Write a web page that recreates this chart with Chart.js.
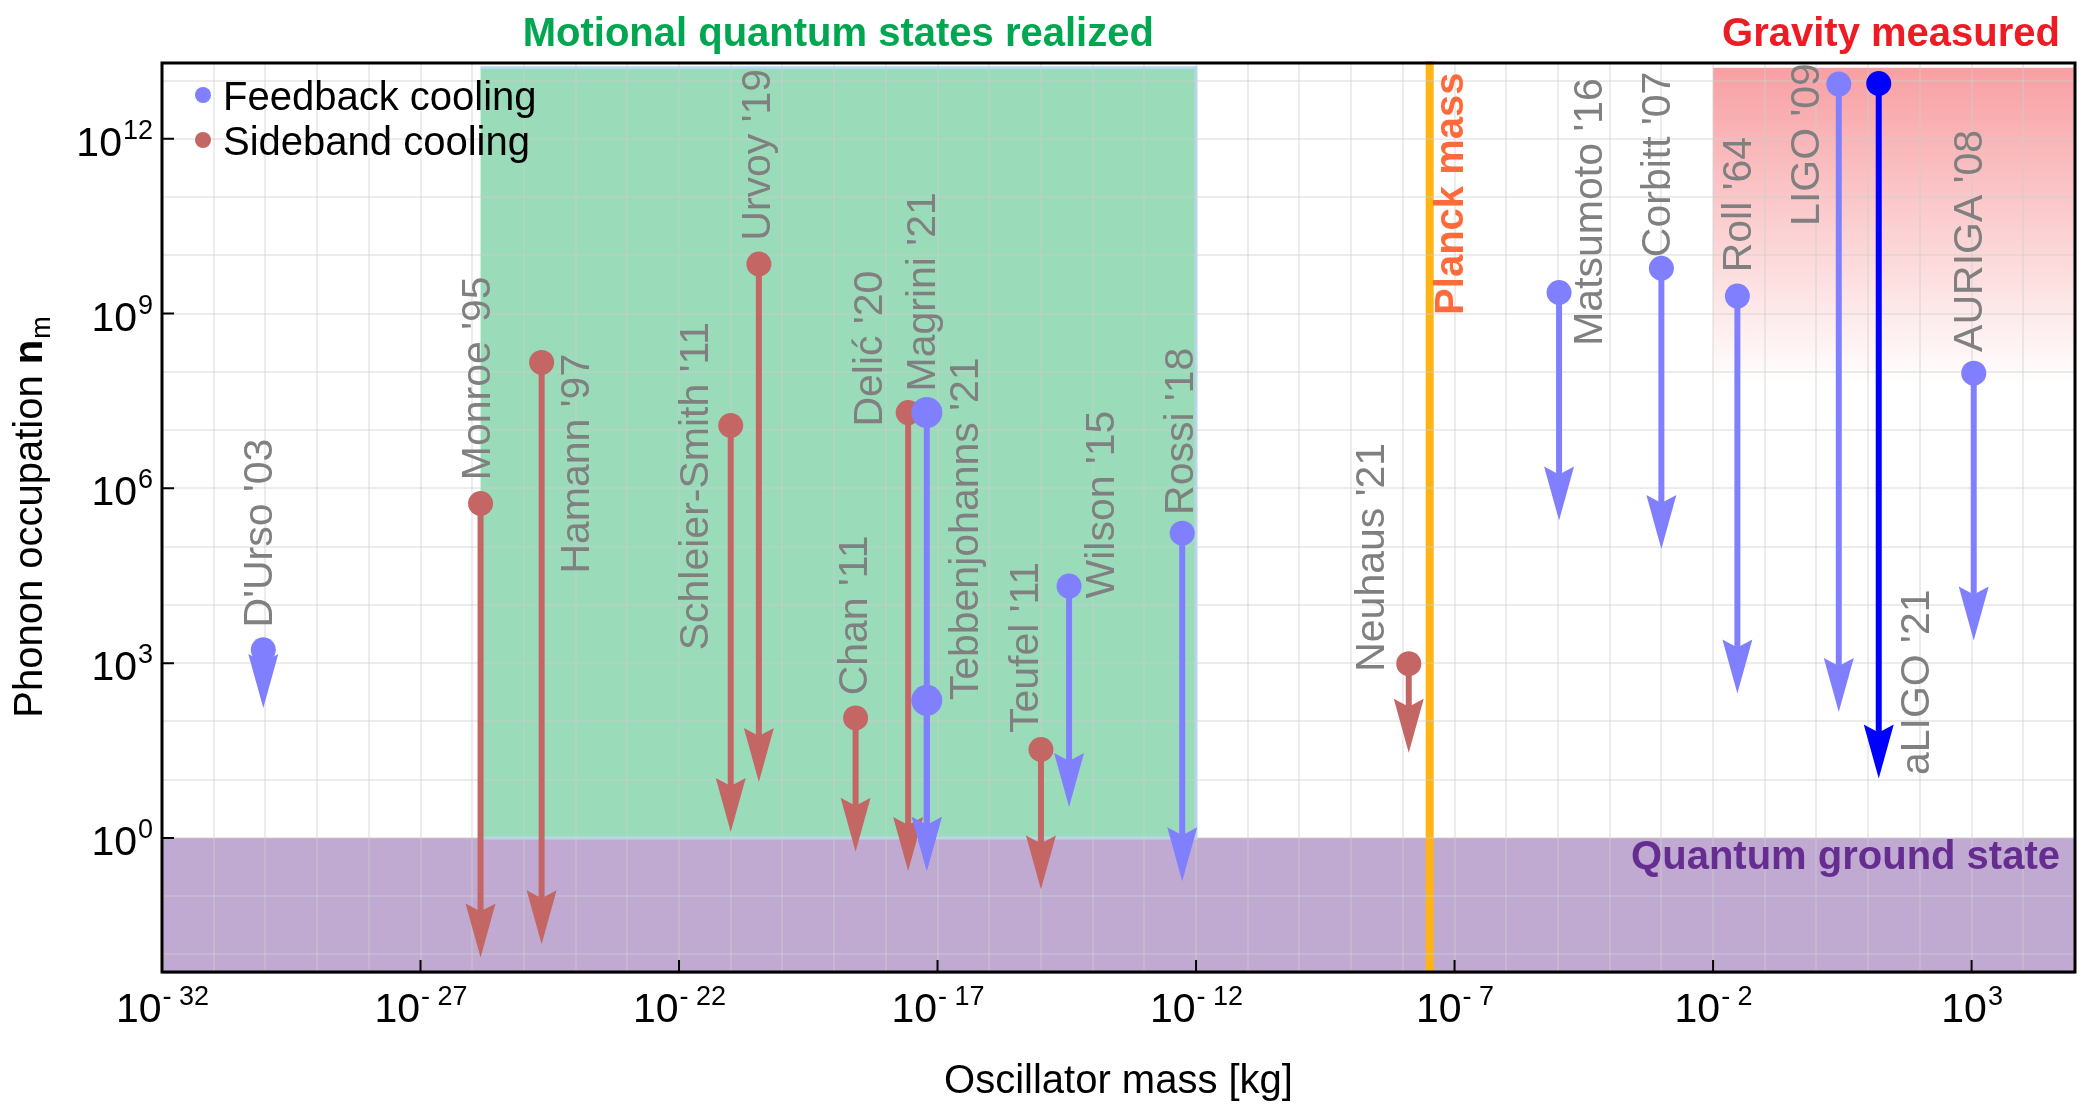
<!DOCTYPE html>
<html>
<head>
<meta charset="utf-8">
<script src="https://cdn.jsdelivr.net/npm/chart.js@4.4.1/dist/chart.umd.min.js"></script>
<style>
html,body{margin:0;padding:0;background:#ffffff;}
#wrap{width:2100px;height:1104px;position:relative;}
</style>
</head>
<body>
<div id="wrap"><canvas id="c" width="2100" height="1104"></canvas></div>
<script>
// ---------------- data ----------------
const experiments = ["D'Urso '03", "Monroe '95", "Hamann '97", "Schleier-Smith '11", "Urvoy '19",
  "Chan '11", "Delić '20", "Magrini '21", "Tebbenjohanns '21", "Teufel '11", "Wilson '15",
  "Rossi '18", "Neuhaus '21", "Matsumoto '16", "Corbitt '07", "Roll '64", "LIGO '09",
  "aLIGO '21", "AURIGA '08"];
const massKg = [9.1e-31, 1.45e-26, 2.2e-25, 1.0e-21, 3.5e-21,
  2.6e-19, 2.7e-18, 6.2e-18, 6.2e-18, 1.0e-15, 3.5e-15,
  5.4e-13, 1.3e-8, 1.05e-5, 1.0e-3, 2.95e-2, 2.7,
  16, 1.1e3];
const nInitial = [1.7e3, 5.5e5, 1.45e8, 1.2e7, 7.1e9,
  1.15e2, 2.0e7, 2.0e7, 2.3e2, 33, 2.1e4,
  1.7e5, 9.8e2, 2.3e9, 6.0e9, 2.0e9, 8.7e12,
  8.9e12, 9.5e7];
const nFinal = [1.7e2, 8.9e-3, 1.5e-2, 1.26, 9.1,
  0.58, 0.27, 0.27, 0.27, 0.13, 3.4,
  0.18, 29, 2.8e5, 9.1e4, 3.0e2, 1.45e2,
  10.5, 2.45e3];
const coolingMethod = ["feedback", "sideband", "sideband", "sideband", "sideband",
  "sideband", "sideband", "feedback", "feedback", "sideband", "feedback",
  "feedback", "sideband", "feedback", "feedback", "feedback", "feedback",
  "feedback", "feedback"];

// label anchors (data coordinates: mass, occupation) and which end of the text sits there
const labelMass = [8.1e-31, 1.35e-26, 1.1e-24, 2.24e-22, 3.5e-21,
  2.6e-19, 5.1e-19, 5.4e-18, 3.7e-17, 5.4e-16, 1.58e-14,
  5.2e-13, 2.57e-9, 4.2e-5, 8.9e-4, 3.2e-2, 0.69,
  89, 9.8e2];
const labelN = [4.1e3, 1.38e6, 2.04e8, 1.66e3, 1.78e10,
  2.8e2, 1.15e7, 4.6e7, 2.3e2, 63, 1.29e4,
  3.5e5, 7.1e2, 2.8e8, 9.3e9, 5.1e9, 3.2e10,
  12, 2.2e8];
const labelEnd = ["start", "start", "end", "start", "start",
  "start", "start", "start", "start", "start", "start",
  "start", "start", "start", "start", "start", "start",
  "start", "start"];

// regions
const groundStateN = 1;
const regionTopN = 1.66e13;
const motionalMassRange = [1.45e-26, 1e-12];
const gravityMassMin = 1e-2;
const gravityFadeN = 6.0e7;
const planckMassKg = 3.3e-8;
const planckLabelAt = [9.1e-8, 9.5e8];

// axes
const xRange = [1e-32, 1e5];
const yRange = [5.0e-3, 2.0e13];
const xTickExponents = [-32, -27, -22, -17, -12, -7, -2, 3];
const yTickExponents = [0, 3, 6, 9, 12];
const xGridExponents = Array.from({length: 38}, (_, i) => i - 32);
const yGridExponents = Array.from({length: 16}, (_, i) => i - 2);

// ---------------- styles ----------------
const FONT = "'Liberation Sans', Arial, Helvetica, sans-serif";
const COL_FEEDBACK = '#8080ff';
const COL_SIDEBAND = '#c46664';
const COL_HIGHLIGHT = '#0000ff';
const highlighted = new Set(["aLIGO '21"]);
const largeMarkers = new Set(["Magrini '21", "Tebbenjohanns '21"]);
const colorOf = i => highlighted.has(experiments[i]) ? COL_HIGHLIGHT :
  (coolingMethod[i] === 'feedback' ? COL_FEEDBACK : COL_SIDEBAND);
const radiusOf = i => largeMarkers.has(experiments[i]) ? 15.5 : 12.5;

function pointsFor(method) {
  const idx = experiments.map((_, i) => i).filter(i => coolingMethod[i] === method);
  return {
    data: idx.map(i => ({x: massKg[i], y: nInitial[i]})),
    colors: idx.map(colorOf),
    radii: idx.map(radiusOf)
  };
}
const fb = pointsFor('feedback');
const sb = pointsFor('sideband');

// ---------------- plugins ----------------
const backgroundPlugin = {
  id: 'regions',
  beforeDraw(chart) {
    const {ctx, chartArea: a, scales: {x, y}} = chart;
    ctx.save();
    ctx.fillStyle = '#ffffff';
    ctx.fillRect(0, 0, chart.width, chart.height);
    ctx.beginPath(); ctx.rect(a.left, a.top, a.right - a.left, a.bottom - a.top + 2); ctx.clip();
    // ground state
    const y0 = y.getPixelForValue(groundStateN);
    ctx.fillStyle = '#c0aad2';
    ctx.fillRect(a.left, y0, a.right - a.left, a.bottom - y0 + 2);
    // motional quantum states
    const gx0 = x.getPixelForValue(motionalMassRange[0]);
    const gx1 = x.getPixelForValue(motionalMassRange[1]);
    const gTop = y.getPixelForValue(regionTopN);
    ctx.fillStyle = '#9adbba';
    ctx.fillRect(gx0, gTop, gx1 - gx0, y0 - gTop);
    ctx.strokeStyle = 'rgba(175,218,240,0.95)';
    ctx.lineWidth = 3;
    ctx.beginPath();
    ctx.moveTo(gx0, gTop); ctx.lineTo(gx1, gTop); ctx.lineTo(gx1, y0); ctx.lineTo(gx0, y0);
    ctx.stroke();
    // gravity measured
    const rx0 = x.getPixelForValue(gravityMassMin);
    const rBot = y.getPixelForValue(gravityFadeN);
    const grad = ctx.createLinearGradient(0, gTop, 0, rBot);
    grad.addColorStop(0, 'rgba(237,28,36,0.42)');
    grad.addColorStop(1, 'rgba(237,28,36,0)');
    ctx.fillStyle = grad;
    ctx.fillRect(rx0, gTop, a.right - rx0, rBot - gTop);
    ctx.restore();
    // Planck mass line
    ctx.save();
    const px = x.getPixelForValue(planckMassKg);
    ctx.strokeStyle = '#fdb515';
    ctx.lineWidth = 8;
    ctx.beginPath(); ctx.moveTo(px, a.top - 2); ctx.lineTo(px, a.bottom); ctx.stroke();
    ctx.restore();
  }
};

function drawArrow(ctx, xp, yStart, yTip, color) {
  const headLen = 54, half = 15, notch = 8;
  ctx.strokeStyle = color;
  ctx.fillStyle = color;
  ctx.lineWidth = 6;
  ctx.lineCap = 'butt';
  ctx.beginPath();
  ctx.moveTo(xp, yStart);
  ctx.lineTo(xp, Math.max(yStart, yTip - headLen + notch + 3));
  ctx.stroke();
  ctx.beginPath();
  ctx.moveTo(xp, yTip);
  ctx.lineTo(xp - half, yTip - headLen);
  ctx.lineTo(xp, yTip - headLen + notch);
  ctx.lineTo(xp + half, yTip - headLen);
  ctx.closePath();
  ctx.fill();
}

const arrowPlugin = {
  id: 'arrows',
  beforeDatasetsDraw(chart) {
    const {ctx, scales: {x, y}} = chart;
    ctx.save();
    const order = ['sideband', 'feedback'];
    order.forEach(m => {
      experiments.forEach((_, i) => {
        if (coolingMethod[i] !== m) return;
        drawArrow(ctx, x.getPixelForValue(massKg[i]), y.getPixelForValue(nInitial[i]),
          y.getPixelForValue(nFinal[i]), colorOf(i));
      });
    });
    ctx.restore();
  }
};

function drawSupLabel(ctx, base, sup, xp, baseY, align) {
  ctx.font = `41px ${FONT}`;
  const w1 = ctx.measureText(base).width;
  ctx.font = `27px ${FONT}`;
  const w2 = ctx.measureText(sup).width;
  let x0;
  if (align === 'center') x0 = xp - (w1 + w2) / 2;
  else x0 = xp - (w1 + w2);
  ctx.textAlign = 'left';
  ctx.textBaseline = 'alphabetic';
  ctx.fillStyle = '#000000';
  ctx.font = `41px ${FONT}`;
  ctx.fillText(base, x0, baseY);
  ctx.font = `27px ${FONT}`;
  ctx.fillText(sup, x0 + w1 + 1, baseY - 17);
}

const annotationPlugin = {
  id: 'annotations',
  afterDraw(chart) {
    const {ctx, chartArea: a, scales: {x, y}} = chart;
    ctx.save();
    // experiment labels
    ctx.fillStyle = '#808080';
    ctx.font = `41px ${FONT}`;
    ctx.textBaseline = 'middle';
    experiments.forEach((name, i) => {
      const lx = x.getPixelForValue(labelMass[i]);
      const ly = y.getPixelForValue(labelN[i]);
      ctx.save();
      ctx.translate(lx, ly);
      ctx.rotate(-Math.PI / 2);
      ctx.textAlign = labelEnd[i] === 'end' ? 'right' : 'left';
      ctx.fillText(name, 0, 0);
      ctx.restore();
    });
    // Planck mass label
    ctx.save();
    ctx.translate(x.getPixelForValue(planckLabelAt[0]), y.getPixelForValue(planckLabelAt[1]));
    ctx.rotate(-Math.PI / 2);
    ctx.font = `bold 40px ${FONT}`;
    ctx.fillStyle = '#ff6a3a';
    ctx.textAlign = 'left';
    ctx.textBaseline = 'middle';
    ctx.fillText('Planck mass', 0, 0);
    ctx.restore();

    // frame
    ctx.strokeStyle = '#000000';
    ctx.lineWidth = 3;
    ctx.strokeRect(a.left, a.top, a.right - a.left, a.bottom - a.top);
    // inward major ticks
    ctx.lineWidth = 2;
    ctx.beginPath();
    xTickExponents.forEach(e => {
      const px = x.getPixelForValue(Math.pow(10, e));
      ctx.moveTo(px, a.bottom); ctx.lineTo(px, a.bottom - 12);
    });
    yTickExponents.forEach(e => {
      const py = y.getPixelForValue(Math.pow(10, e));
      ctx.moveTo(a.left, py); ctx.lineTo(a.left + 12, py);
    });
    ctx.stroke();
    // tick labels
    xTickExponents.forEach(e => {
      const px = x.getPixelForValue(Math.pow(10, e));
      const sup = e < 0 ? '- ' + Math.abs(e) : String(e);
      drawSupLabel(ctx, '10', sup, px, a.bottom + 50, 'center');
    });
    yTickExponents.forEach(e => {
      const py = y.getPixelForValue(Math.pow(10, e));
      drawSupLabel(ctx, '10', String(e), a.left - 10, py + 17, 'right');
    });
    // axis titles
    ctx.fillStyle = '#000000';
    ctx.font = `40px ${FONT}`;
    ctx.textAlign = 'center';
    ctx.textBaseline = 'alphabetic';
    ctx.fillText('Oscillator mass [kg]', (a.left + a.right) / 2, a.bottom + 121);
    // y title with bold n and subscript m
    ctx.save();
    const midY = (a.top + a.bottom) / 2;
    ctx.translate(42, midY);
    ctx.rotate(-Math.PI / 2);
    const t1 = 'Phonon occupation ';
    ctx.font = `40px ${FONT}`; const w1 = ctx.measureText(t1).width;
    ctx.font = `bold 40px ${FONT}`; const w2 = ctx.measureText('n').width;
    ctx.font = `27px ${FONT}`; const w3 = ctx.measureText('m').width;
    let sx = -(w1 + w2 + w3) / 2;
    ctx.textAlign = 'left';
    ctx.font = `40px ${FONT}`; ctx.fillText(t1, sx, 0);
    ctx.font = `bold 40px ${FONT}`; ctx.fillText('n', sx + w1, 0);
    ctx.font = `27px ${FONT}`; ctx.fillText('m', sx + w1 + w2 + 1, 8);
    ctx.restore();

    // region titles
    ctx.font = `bold 40px ${FONT}`;
    ctx.textBaseline = 'alphabetic';
    ctx.textAlign = 'center';
    ctx.fillStyle = '#00a650';
    const gx0 = x.getPixelForValue(motionalMassRange[0]);
    const gx1 = x.getPixelForValue(motionalMassRange[1]);
    ctx.fillText('Motional quantum states realized', (gx0 + gx1) / 2, a.top - 17);
    ctx.fillStyle = '#ed1c24';
    ctx.textAlign = 'right';
    ctx.fillText('Gravity measured', a.right - 15, a.top - 17);
    ctx.fillStyle = '#662d91';
    ctx.fillText('Quantum ground state', a.right - 15, y.getPixelForValue(groundStateN) + 31);

    // legend
    const legend = [['Feedback cooling', COL_FEEDBACK], ['Sideband cooling', COL_SIDEBAND]];
    legend.forEach(([txt, col], k) => {
      const cy = a.top + 32 + k * 45;
      ctx.fillStyle = col;
      ctx.beginPath(); ctx.arc(a.left + 41, cy, 8, 0, Math.PI * 2); ctx.fill();
      ctx.fillStyle = '#000000';
      ctx.font = `40px ${FONT}`;
      ctx.textAlign = 'left';
      ctx.fillText(txt, a.left + 61, cy + 15);
    });
    ctx.restore();
  }
};

// ---------------- chart ----------------
const gridColor = 'rgba(205,205,205,0.38)';
new Chart(document.getElementById('c'), {
  type: 'scatter',
  data: {
    datasets: [
      {label: 'Feedback cooling', data: fb.data, backgroundColor: fb.colors, pointRadius: fb.radii,
        pointHoverRadius: fb.radii, borderWidth: 0, pointBorderWidth: 0},
      {label: 'Sideband cooling', data: sb.data, backgroundColor: sb.colors, pointRadius: sb.radii,
        pointHoverRadius: sb.radii, borderWidth: 0, pointBorderWidth: 0}
    ]
  },
  options: {
    responsive: false,
    animation: false,
    events: [],
    layout: {padding: {left: 162, right: 25, top: 63, bottom: 132}},
    plugins: {legend: {display: false}, tooltip: {enabled: false}},
    scales: {
      x: {
        type: 'logarithmic', min: xRange[0], max: xRange[1],
        ticks: {display: false},
        grid: {color: gridColor, lineWidth: 2, drawTicks: false},
        border: {display: false},
        afterBuildTicks: s => { s.ticks = xGridExponents.map(e => ({value: Math.pow(10, e)})); }
      },
      y: {
        type: 'logarithmic', min: yRange[0], max: yRange[1],
        ticks: {display: false},
        grid: {color: gridColor, lineWidth: 2, drawTicks: false},
        border: {display: false},
        afterBuildTicks: s => { s.ticks = yGridExponents.map(e => ({value: Math.pow(10, e)})); }
      }
    }
  },
  plugins: [backgroundPlugin, arrowPlugin, annotationPlugin]
});
</script>
</body>
</html>
